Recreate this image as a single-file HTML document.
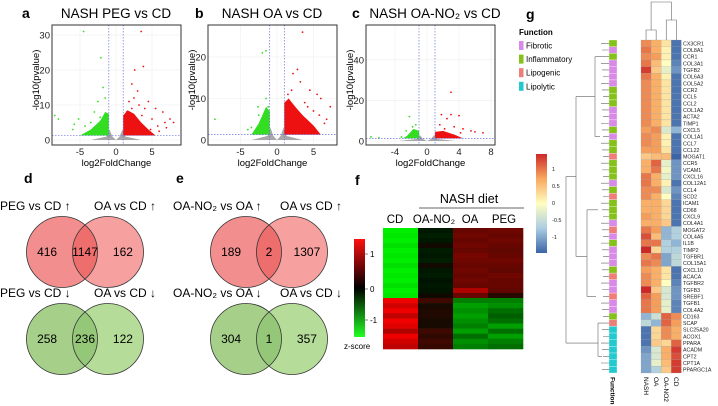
<!DOCTYPE html>
<html><head><meta charset="utf-8">
<style>
body{margin:0;background:#fff;}
svg{display:block;font-family:"Liberation Sans",Arial,sans-serif;}
</style></head>
<body>
<svg id="fig" width="718" height="406" viewBox="0 0 718 406" xmlns="http://www.w3.org/2000/svg">
<g id="gA"></g>
<g id="gB"></g>
<g id="gC"></g>
<g id="gD"></g>
<g id="gE"></g>
<g id="gF"></g>
<g id="gG"></g>
</svg>
<script>
const NS="http://www.w3.org/2000/svg";
// ---------- Volcano data ([log2FC, -log10p]) ----------
const redA=[[3.5,31],[2.6,20],[3.8,21],[2.2,16],[3,14],[4.5,11],[5.5,9],[6.5,8],[7.5,6],[8,5],[6.8,5],[5,6],[4,9],[2.5,12],[3.2,10],[1.8,11],[5.8,4],[7,3.5],[4.8,3],[6,2.5],[2.2,9],[1.5,8],[3.6,7]];
const greenA=[[-4.5,31],[-2.1,23.5],[-1.8,15],[-8,6],[-8.5,7],[-5.2,6],[-4.3,4],[-6,3],[-3,8],[-2.5,11],[-1.5,12],[-3.5,5],[-5.8,4.5],[-2.2,6.5]];
const denseRedA=[[1,1.3],[1,7],[1.6,8.5],[2.5,7.5],[3.5,5],[4.5,3],[5.5,1.3]];
const denseGreenA=[[-1,1.3],[-1,7.5],[-1.5,8],[-2.2,5.5],[-3.5,3],[-5,1.3]];
const redB=[[3.5,26],[2.2,16],[2.8,17],[3.2,14],[4.5,12],[5.5,11],[6,10],[7.3,8],[6.8,5],[5,7],[3.8,9],[2,12],[1.5,11],[6.5,4],[4.2,8],[5.8,6]];
const greenB=[[-2,21],[-1.5,21.5],[-1.5,10],[-2.6,8],[-2.5,6],[-8.5,5],[-3.5,3],[-4,2.5],[-1.2,8]];
const denseRedB=[[1,1.3],[1,9],[1.6,10],[2.5,8],[3.5,6],[5,3.5],[6,1.3]];
const denseGreenB=[[-1,1.3],[-1,7],[-1.5,8],[-2.5,4],[-3.5,1.3]];
const redC=[[3,24],[1.8,13],[3,13],[4,12.5],[2.5,11],[4.5,6],[5.5,5],[6,4.5],[7,4],[4.2,4],[1.6,8],[2.2,6],[3.4,7]];
const greenC=[[-2.2,12],[-1.4,8],[-1.8,7],[-2.6,5],[-7,2],[-3.2,2],[-6,1.5]];
const denseRedC=[[1,1.3],[1,4.5],[2,5],[3.5,3],[4.5,1.3]];
const denseGreenC=[[-1,1.3],[-1,5],[-1.7,6],[-2.5,2.5],[-3,1.3]];

function el(tag,attrs,parent,txt){const e=document.createElementNS(NS,tag);for(const k in attrs)e.setAttribute(k,attrs[k]);if(txt!==undefined)e.textContent=txt;parent.appendChild(e);return e;}

function volcano(g,o){
  const sx=v=>o.x0+v*o.kx, sy=v=>o.y0-v*o.ky;
  const t=el('text',{x:o.titleX,y:18,'font-size':13.5,'text-anchor':'middle'},g,o.title);
  
  const L=el('text',{x:o.letterX,y:18,'font-size':14,'font-weight':'bold'},g,o.letter);
  
  for(const v of o.xt){el('line',{x1:sx(v),x2:sx(v),y1:o.top,y2:o.bot,stroke:'#eee','stroke-width':0.6},g);}
  for(const v of o.yt){el('line',{x1:o.left,x2:o.right,y1:sy(v),y2:sy(v),stroke:'#eee','stroke-width':0.6},g);}
  const gray=[[-3.5,0],[-1.3,1],[-0.9,3],[-0.5,1],[0,0],[0.5,1],[0.9,3],[1.3,1],[3.5,0]];
  const gp=el('polygon',{points:gray.map(p=>sx(p[0])+','+sy(p[1])).join(' '),fill:'#a8a8a8'},g);
  
  const dr=el('polygon',{points:o.dr.map(p=>sx(p[0])+','+sy(p[1])).join(' '),fill:'#ee1111'},g);
  
  const dg=el('polygon',{points:o.dg.map(p=>sx(p[0])+','+sy(p[1])).join(' '),fill:'#33dd22'},g);
  
  for(const p of o.red){const c=el('circle',{cx:sx(p[0]),cy:sy(p[1]),r:0.9,fill:'#ee1111'},g);
    }
  for(const p of o.green){const c=el('circle',{cx:sx(p[0]),cy:sy(p[1]),r:0.9,fill:'#33dd22'},g);
    }
  for(const v of [-1,1])el('line',{x1:sx(v),x2:sx(v),y1:o.top,y2:o.bot,stroke:'#6670dd','stroke-width':0.7,'stroke-dasharray':'1.5,1.5'},g);
  el('line',{x1:o.left,x2:o.right,y1:sy(1.3),y2:sy(1.3),stroke:'#6670dd','stroke-width':0.7,'stroke-dasharray':'1.5,1.5'},g);
  el('rect',{x:o.left,y:o.top,width:o.right-o.left,height:o.bot-o.top,fill:'none',stroke:'#333','stroke-width':1},g);
  for(const v of o.xt){const tx=el('text',{x:sx(v),y:o.bot+10,'font-size':9.5,'text-anchor':'middle',fill:'#222'},g,String(v));
    }
  for(const v of o.yt){const tx=el('text',{x:o.left-2,y:sy(v)+3.5,'font-size':9.5,'text-anchor':'end',fill:'#222'},g,String(v));
    }
  const xl=el('text',{x:(o.left+o.right)/2,y:o.bot+21,'font-size':9.5,'text-anchor':'middle'},g,'log2FoldChange');
  
  const yl=el('text',{x:0,y:0,'font-size':9.5,'text-anchor':'middle',transform:`translate(${o.left-13},${(o.top+o.bot)/2-5}) rotate(-90)`},g,'-log10(pvalue)');
  
}
volcano(document.getElementById('gA'),{title:'NASH PEG vs CD',titleX:116,letter:'a',letterX:22,left:52,right:181,top:25,bot:145,x0:116,kx:7.2,y0:140,ky:3.5,xt:[-5,0,5],yt:[0,10,20,30],red:redA,green:greenA,dr:denseRedA,dg:denseGreenA});
volcano(document.getElementById('gB'),{title:'NASH OA vs CD',titleX:272,letter:'b',letterX:195,left:208,right:337,top:25,bot:145,x0:277,kx:7.3,y0:140,ky:4.15,xt:[-5,0,5],yt:[0,10,20],red:redB,green:greenB,dr:denseRedB,dg:denseGreenB});
volcano(document.getElementById('gC'),{title:'NASH OA-NO\u2082 vs CD',titleX:435,letter:'c',letterX:352,left:366,right:495,top:25,bot:145,x0:427,kx:8.0,y0:141,ky:2.03,xt:[-4,0,4,8],yt:[0,20,40],red:redC,green:greenC,dr:denseRedC,dg:denseGreenC});

// ---------- Venn ----------
const vennD=[{labels:['PEG vs CD \u2191','OA vs CD \u2191'],counts:[416,1147,162],up:true},{labels:['PEG vs CD \u2193','OA vs CD \u2193'],counts:[258,236,122],up:false}];
const vennE=[{labels:['OA-NO\u2082 vs OA \u2191','OA vs CD \u2191'],counts:[189,2,1307],up:true},{labels:['OA-NO\u2082 vs OA \u2193','OA vs CD \u2193'],counts:[304,1,357],up:false}];
function venn(g,data,c1,c2,lx,letter,labX){
  const L=el('text',{x:lx,y:183,'font-size':14,'font-weight':'bold'},g,letter);
  
  data.forEach((d,i)=>{
    const cy=i===0?252:339, ly=i===0?210:297;
    const fill=d.up?'#f7a0a0':'#b5dc98', ov=d.up?'#ee6e6e':'#94c878', stroke='#333';
    const r=35.5;
    const cid='clip'+letter+i;
    const defs=el('defs',{},g);const cp=el('clipPath',{id:cid},defs);el('circle',{cx:c1,cy,r},cp);
    const a=el('circle',{cx:c1,cy,r,fill:d.up?'#f28e8e':'#a6d089'},g);
    
    const b=el('circle',{cx:c2,cy,r,fill},g);
    
    const o=el('circle',{cx:c2,cy,r,fill:ov,'clip-path':`url(#${cid})`},g);
    
    el('circle',{cx:c1,cy,r,fill:'none',stroke,'stroke-width':0.8},g);
    el('circle',{cx:c2,cy,r,fill:'none',stroke,'stroke-width':0.8},g);
    const t1=el('text',{x:labX[0],y:ly,'font-size':12},g,d.labels[0]);
    
    const t2=el('text',{x:labX[1],y:ly,'font-size':12},g,d.labels[1]);
    
    const mid=(c1+c2)/2;
    [c1-r*0.42,mid,c2+r*0.42].forEach((x,j)=>{const t=el('text',{x,y:cy+4,'font-size':12,'text-anchor':'middle'},g,String(d.counts[j]));
      });
  });
}
venn(document.getElementById('gD'),vennD,62,108,24,'d',[0,94]);
venn(document.getElementById('gE'),vennE,246,292,176,'e',[173,280]);

// ---------- Panel f heatmap ----------
const fCols=['CD','OA-NO\u2082','OA','PEG'];
const fTop=[[-1.4,-0.05,0.55,0.6],[-1.35,-0.1,0.6,0.55],[-1.4,-0.05,0.55,0.6],[-1.3,0.02,0.6,0.55],[-1.4,-0.08,0.55,0.5],[-1.35,-0.05,0.65,0.55],[-1.4,-0.1,0.6,0.6],[-1.3,0.02,0.55,0.55],[-1.4,-0.05,0.6,0.5],[-1.35,-0.08,0.55,0.6],[-1.4,-0.02,0.6,0.55],[-1.3,-0.05,0.55,0.55],[-1.4,-0.04,1.0,0.5],[-1.35,0.0,0.55,0.15]];
const fBot=[[1.4,0.3,-0.7,-0.7],[1.2,0.05,-0.9,-0.8],[1.4,0.1,-0.8,-0.6],[1.1,0.1,-0.9,-0.5],[1.4,0.05,-0.8,-0.6],[1.3,0.05,-0.7,-0.9],[1.0,0.3,-0.9,-0.6],[1.4,0.2,-0.6,-0.9],[1.2,0.3,-0.8,-0.7],[1.1,0.25,-0.7,-0.6]];
function rg(v){v=Math.max(-1.5,Math.min(1.5,v))/1.5;return v>=0?`rgb(${Math.round(15+240*v)},${Math.round(10*(1-v))},0)`:`rgb(0,${Math.round(15-240*v)},0)`;}
(function(){
  const g=document.getElementById('gF');
  const L=el('text',{x:355,y:185,'font-size':14,'font-weight':'bold'},g,'f');
  
  const nd=el('text',{x:469,y:203,'font-size':12.5,'text-anchor':'middle'},g,'NASH diet');
  
  el('line',{x1:419,x2:524,y1:208,y2:208,stroke:'#333','stroke-width':0.8},g);
  const xs=[383,418,453,488,523];
  const lx=[395,434,470,504];
  fCols.forEach((c,i)=>{const t=el('text',{x:lx[i],y:223,'font-size':11.5,'text-anchor':'middle'},g,c);
    });
  const y0=228, hT=70/fTop.length, hB=51/fBot.length;
  fTop.forEach((r,ri)=>r.forEach((v,ci)=>{const c=el('rect',{x:xs[ci],y:y0+ri*hT,width:xs[ci+1]-xs[ci]+0.3,height:hT+0.3,fill:rg(v)},g);
    }));
  fBot.forEach((r,ri)=>r.forEach((v,ci)=>{const c=el('rect',{x:xs[ci],y:298+ri*hB,width:xs[ci+1]-xs[ci]+0.3,height:hB+0.3,fill:rg(v)},g);
    }));
  const defs=el('defs',{},g);
  const lg=el('linearGradient',{id:'rgGrad',x1:0,y1:0,x2:0,y2:1},defs);
  el('stop',{offset:'0','stop-color':'#ff1010'},lg);el('stop',{offset:'0.5','stop-color':'#000'},lg);el('stop',{offset:'1','stop-color':'#22ff22'},lg);
  const cb=el('rect',{x:354,y:239,width:11,height:98,fill:'url(#rgGrad)'},g);
  
  [['1',257],['0',292],['-1',323]].forEach(a=>{el('line',{x1:365,x2:368,y1:a[1]-3,y2:a[1]-3,stroke:'#333','stroke-width':0.6},g);
    const t=el('text',{x:370,y:a[1],'font-size':8},g,a[0]);});
  const z=el('text',{x:344,y:349,'font-size':8},g,'z-score');
  
})();

// ---------- Panel g clustered heatmap ----------
const gGenes=['CX3CR1','COL8A1','CCR1','COL3A1','TGFB2','COL6A3','COL5A2','CCR2','CCL5','CCL2','COL1A2','ACTA2','TIMP1','CXCL5','COL1A1','CCL7','CCL22','MOGAT1','CCR5','VCAM1','CXCL16','COL12A1','CCL4','SCD2','ICAM1','CD68','CXCL9','COL4A1','MOGAT2','COL4A5','IL1B','TIMP2','TGFBR1','COL15A1','CXCL10','ACACA','TGFBR2','TGFB3','SREBF1','TGFB1','COL4A2','CD163','SCAP','SLC25A20','ACOX1','PPARA','ACADM','CPT2','CPT1A','PPARGC1A'];
const gCols=['NASH','OA','OA-NO2','CD'];
const gNASH=[0.8,0.9,0.8,0.9,1.2,0.9,0.8,0.8,0.8,0.8,0.8,0.8,0.8,0.7,0.8,0.8,0.7,0.4,0.6,0.6,0.9,0.9,0.8,0.8,0.6,0.6,0.7,0.6,0.9,1.1,0.9,1.3,0.8,0.9,0.7,0.8,0.8,1.3,1.0,0.9,0.9,-0.8,-0.5,-1.2,-1.2,-1.2,-1.0,-0.9,-0.9,-0.9];
const gOA=[0.6,0.6,0.7,0.5,0.4,0.6,0.6,0.6,0.6,0.6,0.6,0.6,0.6,0.8,0.7,0.7,0.7,0.5,1.0,0.9,0.6,0.6,0.8,0.6,0.6,0.6,0.6,0.6,0.7,0.5,0.9,0.3,0.9,0.8,0.6,0.6,0.6,0.4,0.7,0.7,0.7,-0.4,-0.8,0.3,0.3,0.4,-0.3,-0.3,-0.2,-0.6];
const gOANO2=[0.2,0.1,0.1,0,-0.2,0.1,0.2,0.2,0.2,0.2,0.2,0.2,0.2,-0.3,0.1,0.1,0.2,0.5,-0.2,-0.1,-0.2,0.1,-0.3,0,0.3,0.3,0.3,0.4,-0.8,-0.8,-0.6,-0.6,-0.9,-0.9,0.2,0.2,0,-0.3,-0.3,-0.2,-0.2,1.0,1.0,0.8,0.8,0.3,0.6,0.6,0.5,0.4];
const gCD=[-1.2,-1.2,-1.2,-1.1,-1.0,-1.2,-1.2,-1.2,-1.2,-1.2,-1.2,-1.2,-1.2,-0.8,-1.2,-1.2,-1.2,-1.3,-1.0,-1.0,-1.0,-1.2,-1.0,-1.1,-1.2,-1.2,-1.2,-1.2,-0.6,-0.6,-0.8,-0.6,-0.5,-0.5,-1.2,-1.2,-1.1,-1.0,-1.0,-1.1,-1.1,0.8,0.7,0.6,0.6,1.0,1.2,1.1,1.2,1.2];
const gFuncNames=['Fibrotic','Inflammatory','Lipogenic','Lipolytic'];
const gFuncColors=['#d98ae6','#84c21a','#ef7d78','#22c9cf'];
const gFunc=[1,0,1,0,0,0,0,1,1,1,0,0,0,1,0,1,1,2,1,1,1,0,1,2,1,1,1,0,2,0,1,0,0,0,1,2,0,0,2,0,0,1,2,3,3,3,3,3,3,3];
function interp(a,b,t){return a.map((v,i)=>Math.round(v+(b[i]-v)*t));}
function rdyl(v){v=Math.max(-1.3,Math.min(1.3,v));const blue=[59,100,168],lb=[171,205,226],y=[255,254,192],or=[248,168,96],red=[205,40,40];
  let c;if(v<0){const t=-v/1.3;c=t<0.5?interp(y,lb,t*2):interp(lb,blue,(t-0.5)*2);}else{const t=v/1.3;c=t<0.5?interp(y,or,t*2):interp(or,red,(t-0.5)*2);}
  return `rgb(${c[0]},${c[1]},${c[2]})`;}
(function(){
  const g=document.getElementById('gG');
  const L=el('text',{x:526,y:19,'font-size':14,'font-weight':'bold'},g,'g');
  
  const ft=el('text',{x:519,y:35,'font-size':8,'font-weight':'bold'},g,'Function');
  
  gFuncNames.forEach((n,i)=>{const y=41+i*13.6;
    const s=el('rect',{x:519,y,width:4.5,height:9,fill:gFuncColors[i]},g);
    
    const t=el('text',{x:526,y:y+7.5,'font-size':8},g,n);
    });
  const defs=el('defs',{},g);
  const lg=el('linearGradient',{id:'ryb',x1:0,y1:0,x2:0,y2:1},defs);
  [1.3,0.65,0,-0.65,-1.3].forEach((v,i)=>el('stop',{offset:String(i/4),'stop-color':rdyl(v)},lg));
  const cb=el('rect',{x:536,y:154,width:11,height:99,fill:'url(#ryb)'},g);
  
  [['1',171],['0.5',188],['0',205],['-0.5',222],['-1',239]].forEach(a=>{
    const t=el('text',{x:552,y:a[1],'font-size':5.5,fill:'#222'},g,a[0]);});
  const top=40,bot=373,rh=(bot-top)/gGenes.length, x0=641, cw=10.1;
  const vals=[gNASH,gOA,gOANO2,gCD];
  gGenes.forEach((gn,ri)=>{
    const y=top+ri*rh;
    const f=el('rect',{x:609,y,width:8,height:rh,fill:gFuncColors[gFunc[ri]],stroke:'#fff','stroke-width':0.3},g);
    
    vals.forEach((arr,ci)=>{const c=el('rect',{x:x0+ci*cw,y,width:cw,height:rh,fill:rdyl(arr[ri]),stroke:'#999','stroke-width':0.2},g);
      });
    const t=el('text',{x:683,y:y+rh-1.3,'font-size':5.3,fill:'#222'},g,gn);
    
  });
  gCols.forEach((c,i)=>{const t=el('text',{x:0,y:0,'font-size':6.5,transform:`translate(${x0+i*cw+cw/2-2.3},${bot+4}) rotate(90)`},g,c);
    });
  const fl=el('text',{x:0,y:0,'font-size':6.5,'font-weight':'bold',transform:`translate(${610.5},${bot+4}) rotate(90)`},g,'Function');
  
  const cx=i=>x0+i*cw+cw/2, ds={stroke:'#666','stroke-width':0.6,fill:'none'};
  el('path',Object.assign({d:`M${cx(0)},40 V30 H${cx(1)} V40 M${cx(2)},40 V20 H${cx(3)} V40 M${(cx(0)+cx(1))/2},30 V2 H${(cx(2)+cx(3))/2} V20`},ds),g);
  const ry=i=>top+i*rh+rh/2;
  let d=`M566,${ry(20)} V${ry(45)} M566,${ry(20)} H576 M566,${ry(45)} H598`;
  d+=` M576,${ry(8)} V${ry(32)} M576,${ry(8)} H595 M576,${ry(32)} H587`;
  d+=` M595,${ry(2)} V${ry(14)} M595,${ry(2)} H603 M595,${ry(14)} H600`;
  d+=` M587,${ry(25)} V${ry(38)} M587,${ry(25)} H598 M587,${ry(38)} H596`;
  d+=` M598,${ry(42)} V${ry(47)} M598,${ry(42)} H604 M598,${ry(47)} H602`;
  for(let i=0;i<gGenes.length;i++){d+=` M${601+(i%3)},${ry(i)} H609`;}
  const dn=el('path',Object.assign({d},ds),g);
  
})();
</script>
</body></html>
